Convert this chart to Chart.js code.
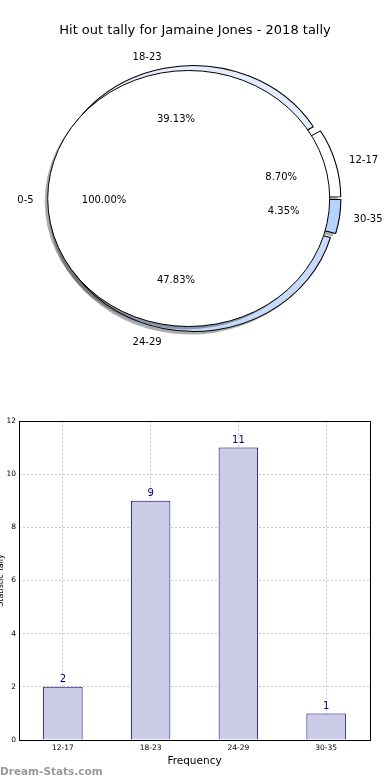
<!DOCTYPE html>
<html><head><meta charset="utf-8">
<script src="https://cdn.jsdelivr.net/npm/chart.js@4"></script>
<style>
html,body{margin:0;padding:0;background:#fff;width:390px;height:780px;overflow:hidden;}
#top{position:absolute;left:0;top:0;width:390px;height:400px;}
#top canvas{position:absolute;left:0;top:0;}
#bar{position:absolute;left:-6px;top:400px;}
</style></head><body>
<div id="top"><canvas id="ring" width="390" height="400"></canvas><canvas id="inner" width="390" height="400"></canvas></div>
<canvas id="bar" width="396" height="380"></canvas>
<script>
// ---- data ----
const titleText = 'Hit out tally for Jamaine Jones - 2018 tally';
const categories = ['12-17', '18-23', '24-29', '30-35'];
const tallies = [2, 9, 11, 1];
const innerCategories = ['0-5'];
const innerValues = [23];
const yTicks = [0, 2, 4, 6, 8, 10, 12];
const xTitle = 'Frequency';
const yTitle = 'Statistic Tally';
const watermark = 'Dream-Stats.com';

// ---- styles ----
const ringColors = ['#ffffff', '#e4ecfd', '#c8dafa', '#b6d2fe'];
const ringOffsets = [19.2, 20.7, 15.2, 16.4];
const R = 128;            // pie radius (vertical px)
const RA = 126;           // outer pie base radius (before Chart.js offset growth)
const SX = 141 / 128;     // horizontal stretch of the ellipse
const FONT = '"DejaVu Sans"';
const SHADOW = 'rgba(20,20,20,0.35)';
const TEXT_DY = 1.5;

const order = categories.map((_, i) => i).reverse();

const ellipse = {
  id: 'ellipse',
  beforeDatasetsDraw(chart) {
    const ctx = chart.ctx;
    const a = chart.getDatasetMeta(0).data[0];
    ctx.save();
    ctx.translate(a.x, a.y); ctx.scale(SX, 1); ctx.translate(-a.x, -a.y);
    ctx.shadowColor = SHADOW;
    ctx.shadowOffsetX = -3; ctx.shadowOffsetY = 3; ctx.shadowBlur = 0;
    const os = CanvasRenderingContext2D.prototype.stroke;
    ctx.stroke = function () {
      const c = this.shadowColor; this.shadowColor = 'rgba(0,0,0,0)';
      os.apply(this, arguments); this.shadowColor = c;
    };
  },
  afterDatasetsDraw(chart) {
    const ctx = chart.ctx;
    delete ctx.stroke;
    ctx.restore();
  }
};

const outline = {
  id: 'outline',
  afterDatasetsDraw(chart) {
    const ctx = chart.ctx;
    chart.getDatasetMeta(0).data.forEach(a => {
      ctx.save();
      ctx.translate(a.x, a.y); ctx.scale(SX, 1);
      ctx.beginPath();
      ctx.arc(0, 0, a.outerRadius, 0, Math.PI * 2);
      ctx.restore();
      ctx.save();
      ctx.strokeStyle = '#000'; ctx.lineWidth = 1;
      ctx.stroke();
      ctx.restore();
    });
  }
};

const ringChart = new Chart(document.getElementById('ring'), {
  type: 'pie',
  data: {
    labels: order.map(i => categories[i]),
    datasets: [{
      data: order.map(i => tallies[i]),
      backgroundColor: order.map(i => ringColors[i]),
      offset: order.map(i => ringOffsets[i]),
      borderColor: '#000', borderWidth: 1, clip: false
    }]
  },
  options: {
    responsive: false, animation: false, events: [],
    rotation: 90, radius: RA,
    layout: {padding: {left: 0, right: 1.4, top: 38, bottom: 41}},
    plugins: {legend: {display: false}, tooltip: {enabled: false}}
  },
  plugins: [ellipse]
});

const labelsPlugin = {
  id: 'pieLabels',
  afterDraw(chart) {
    const ctx = chart.ctx;
    ctx.save();
    ctx.fillStyle = '#000';
    ctx.textBaseline = 'middle';
    ctx.textAlign = 'center';
    ctx.font = '13px ' + FONT;
    ctx.fillText(titleText, chart.width / 2, 30 + 1);
    ctx.font = '10px ' + FONT;
    const total = tallies.reduce((a, b) => a + b, 0);
    const put = (arc, text, k, e, side) => {
      const phi = (arc.startAngle + arc.endAngle) / 2;
      const rr = R * k + e;
      const x = arc.x + SX * rr * Math.cos(phi);
      const y = arc.y + rr * Math.sin(phi) + TEXT_DY;
      ctx.textAlign = side ? (Math.cos(phi) >= 0 ? 'left' : 'right') : 'center';
      ctx.fillText(text, x, y);
    };
    ringChart.getDatasetMeta(0).data.forEach((arc, j) => {
      const i = order[j];
      const t = (arc.options.offset || 0) / 4;
      const fix = 1 - Math.sin(Math.min(Math.PI, arc.circumference));
      const e = RA + t * (1 + fix) - R;
      put(arc, categories[i], 1.1, e, true);
      put(arc, (tallies[i] / total * 100).toFixed(2) + '%', 0.6, e, false);
    });
    const innerTotal = innerValues.reduce((a, b) => a + b, 0);
    chart.getDatasetMeta(0).data.forEach((arc, i) => {
      put(arc, innerCategories[i], 1.1, 0, true);
      put(arc, (innerValues[i] / innerTotal * 100).toFixed(2) + '%', 0.6, 0, false);
    });
    ctx.restore();
  }
};

new Chart(document.getElementById('inner'), {
  type: 'pie',
  data: {
    labels: innerCategories,
    datasets: [{data: innerValues, backgroundColor: '#ffffff', borderWidth: 0, clip: false}]
  },
  options: {
    responsive: false, animation: false, events: [],
    rotation: 90, radius: R,
    layout: {padding: {left: 0, right: 12.6, top: 38, bottom: 41}},
    plugins: {legend: {display: false}, tooltip: {enabled: false}}
  },
  plugins: [ellipse, outline, labelsPlugin]
});

// ---- bar chart ----
const barDecor = {
  id: 'barDecor',
  afterDatasetsDraw(chart) {
    const ctx = chart.ctx;
    ctx.save();
    ctx.font = '10px ' + FONT;
    ctx.fillStyle = '#000080';
    ctx.textAlign = 'center';
    ctx.textBaseline = 'bottom';
    chart.getDatasetMeta(0).data.forEach((bar, i) => {
      ctx.fillText(String(tallies[i]), bar.x, bar.y - 2);
    });
    ctx.restore();
  },
  afterDraw(chart) {
    const ctx = chart.ctx;
    const ca = chart.chartArea;
    ctx.save();
    ctx.strokeStyle = '#000';
    ctx.lineWidth = 1;
    ctx.strokeRect(Math.round(ca.left) + 0.5, Math.round(ca.top) + 0.5,
                   Math.round(ca.right - ca.left), Math.round(ca.bottom - ca.top));
    ctx.font = 'bold 10.5px ' + FONT;
    ctx.fillStyle = '#9a9a9a';
    ctx.textAlign = 'left';
    ctx.textBaseline = 'alphabetic';
    ctx.fillText(watermark, 6, 375);
    ctx.restore();
  }
};

new Chart(document.getElementById('bar'), {
  type: 'bar',
  data: {
    labels: categories,
    datasets: [{
      data: tallies, backgroundColor: '#ccccE6', borderColor: '#000080', borderWidth: 1,
      barPercentage: 0.45, categoryPercentage: 1
    }]
  },
  options: {
    responsive: false, animation: false, events: [],
    layout: {padding: {top: 21, right: 20, left: 0, bottom: 0}},
    plugins: {legend: {display: false}, tooltip: {enabled: false}},
    scales: {
      x: {
        grid: {offset: false, color: '#c8c8c8', drawTicks: false},
        border: {display: false, dash: [2, 2]},
        ticks: {font: {family: 'DejaVu Sans', size: 7.5}, color: '#000', padding: 4},
        title: {display: true, text: xTitle, color: '#000', font: {family: 'DejaVu Sans', size: 10.5}, padding: {top: 0, bottom: 12.7}},
        afterFit: s => { s.height = 40; }
      },
      y: {
        min: yTicks[0], max: yTicks[yTicks.length - 1],
        afterBuildTicks: s => { s.ticks = yTicks.map(v => ({value: v})); },
        grid: {color: '#c8c8c8', drawTicks: false},
        border: {display: false, dash: [2, 2]},
        ticks: {font: {family: 'DejaVu Sans', size: 7.5}, color: '#000', padding: 3},
        title: {display: true, text: yTitle, color: '#000', font: {family: 'DejaVu Sans', size: 8}, padding: {top: 2, bottom: 0}},
        afterFit: s => { s.width = 25; }
      }
    }
  },
  plugins: [barDecor]
});
</script>
</body></html>
